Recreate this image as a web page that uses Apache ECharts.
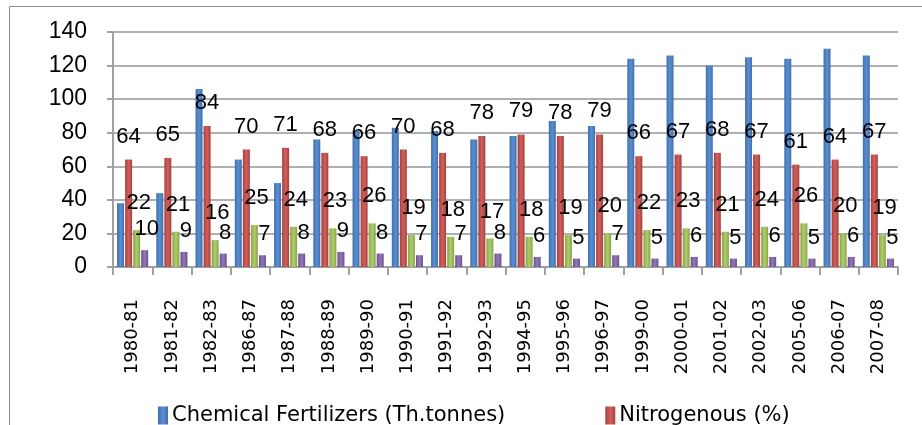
<!DOCTYPE html>
<html><head><meta charset="utf-8">
<script src="https://cdn.jsdelivr.net/npm/echarts@6/dist/echarts.min.js"></script>
<style>html,body{margin:0;padding:0;background:#fff}#c{width:922px;height:425px}</style>
</head><body><div id="c"></div>
<script>
const categories = ['1980-81','1981-82','1982-83','1986-87','1987-88','1988-89','1989-90','1990-91','1991-92','1992-93','1994-95','1995-96','1996-97','1999-00','2000-01','2001-02','2002-03','2005-06','2006-07','2007-08'];
const chemical = [38,44,106,64,50,76,81,83,81,76,78,87,84,124,126,120,125,124,130,126];
const nitrogenous = [64,65,84,70,71,68,66,70,68,78,79,78,79,66,67,68,67,61,64,67];
const phosphatic = [22,21,16,25,24,23,26,19,18,17,18,19,20,22,23,21,24,26,20,19];
const potassic = [10,9,8,7,8,9,8,7,7,8,6,5,7,5,6,5,6,5,6,5];
const yTicks = [0,20,40,60,80,100,120,140];

const chart = echarts.init(document.getElementById('c'));
const font = 'Liberation Sans';
function grad(c1, c2){
  return new echarts.graphic.LinearGradient(0,0,1,0,[{offset:0,color:c1},{offset:0.5,color:c2},{offset:1,color:c1}]);
}
function lbl(dist, dx){
  return {show:true, position:'top', distance:dist, offset:[dx,0], color:'#000', fontFamily:font, fontSize:22};
}
chart.setOption({
  animation:false,
  graphic:[{type:'polyline', shape:{points:[[9.5,425],[9.5,6.5],[922,6.5]]}, style:{stroke:'#8c8c8c', lineWidth:1, fill:null}}],
  grid:{left:113, right:24, top:32, bottom:158},
  legend:{
    data:['Chemical Fertilizers (Th.tonnes)','Nitrogenous (%)'],
    left:153, top:400, itemWidth:10, itemHeight:18, itemGap:100,
    icon:'rect',
    textStyle:{fontFamily:'DejaVu Sans', fontSize:21, color:'#000', padding:[0,0,0,-1]}
  },
  xAxis:{
    type:'category', data:categories,
    axisLine:{lineStyle:{color:'#a0a0a0', width:2}},
    axisTick:{show:true, length:8, lineStyle:{color:'#a0a0a0', width:2}},
    axisLabel:{rotate:90, interval:0, margin:32, fontFamily:'DejaVu Sans', fontSize:18, color:'#000'}
  },
  yAxis:{
    type:'value', min:0, max:140, interval:20,
    axisLine:{show:true, lineStyle:{color:'#a0a0a0', width:2}},
    axisTick:{show:true, length:6, lineStyle:{color:'#a0a0a0', width:2}},
    splitLine:{lineStyle:{color:'#b0b0b0', width:2}},
    axisLabel:{margin:26, fontFamily:font, fontSize:23, color:'#000',
      formatter:v=>yTicks.includes(v)?String(v):''}
  },
  series:[
    {name:'Chemical Fertilizers (Th.tonnes)', type:'bar', data:chemical, barWidth:7, barGap:'15%',
      itemStyle:{color:grad('#3f6fae','#5b8fd0')}},
    {name:'Nitrogenous (%)', type:'bar', data:nitrogenous, barWidth:7, barGap:'15%',
      itemStyle:{color:grad('#a8403d','#d0605c')}, label:lbl(12,0)},
    {name:'Phosphatic (%)', type:'bar', data:phosphatic, barWidth:7, barGap:'15%',
      itemStyle:{color:grad('#86a548','#afcd6c')}, label:lbl(16,2)},
    {name:'Potassic (%)', type:'bar', data:potassic, barWidth:7, barGap:'15%',
      itemStyle:{color:grad('#6b5090','#9278b5')}, label:lbl(10,2)}
  ]
});
</script></body></html>
